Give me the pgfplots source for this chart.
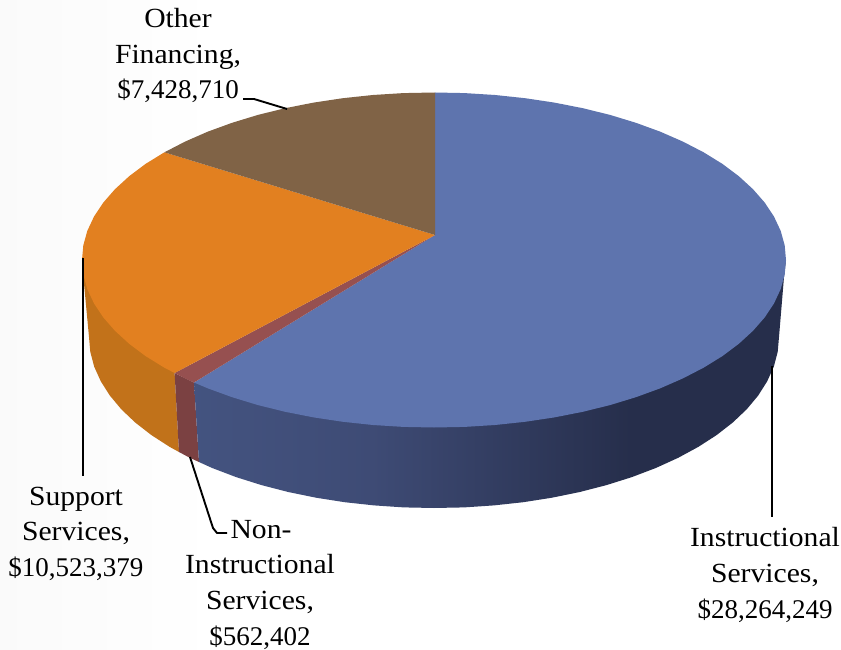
\documentclass[border=0pt]{standalone}
\usepackage{fontspec}
\setmainfont[FakeStretch=1.07]{Liberation Serif}
\newfontfamily\numfont{Liberation Serif}
\usepackage{pgfplots}
\pgfplotsset{compat=1.18}

\definecolor{topblue}{HTML}{5E74AE}
\definecolor{toporange}{HTML}{E28020}
\definecolor{topbrown}{HTML}{806346}
\definecolor{topred}{HTML}{965050}
\definecolor{sidered}{HTML}{7B4142}
\definecolor{sideA}{HTML}{4D6192}
\definecolor{sideB}{HTML}{3E4B75}
\definecolor{sideC}{HTML}{262E4B}
\definecolor{sideOA}{HTML}{C4731A}
\definecolor{sideOB}{HTML}{BD7019}
\definecolor{bgA}{HTML}{EDEDED}
\definecolor{bgB}{HTML}{F3F3F3}
\definecolor{bgC}{HTML}{F9F9F9}

\pgfdeclarehorizontalshading{blueside}{100bp}{color(0bp)=(sideA); color(40bp)=(sideB); color(62bp)=(sideC); color(100bp)=(sideC)}
\pgfdeclarehorizontalshading{orangeside}{100bp}{color(0bp)=(sideOA); color(100bp)=(sideOB)}
\pgfdeclarehorizontalshading{bgshade}{100bp}{color(0bp)=(bgA); color(9bp)=(bgB); color(22bp)=(bgC); color(38bp)=(white); color(100bp)=(white)}

\begin{document}
\begin{tikzpicture}[
  lbl/.style={anchor=base, text=black, inner sep=0pt, font=\fontsize{27.7}{33}\selectfont},
  num/.style={anchor=base, text=black, inner sep=0pt, font=\fontsize{27}{33}\selectfont\numfont},
  leader/.style={black, line width=1.9pt, line join=round},
]
\begin{axis}[
  scale only axis,
  width=841pt,
  height=650pt,
  xmin=0, xmax=841,
  ymin=0, ymax=650,
  y dir=reverse,
  hide axis,
  clip=true,
]

% backdrop
\addplot[draw=none, shading=bgshade] coordinates {(0,0) (841,0) (841,650) (0,650)} -- cycle;

% sides
\addplot[draw=none, shading=orangeside] coordinates {
  (83,273) (89,337) (90.3,351.9) (94.2,366.7) (100.8,381.3) (109.8,395.5) (121.3,409.3)
  (135.2,422.5) (151.4,435.1) (169.7,446.9) (179,452) (174.6,373) (300,300)
} -- cycle;
\addplot[draw=none, fill=sidered] coordinates {
  (174.6,373) (194,382.5) (199,462) (190,457.9) (179,452)
} -- cycle;
\addplot[draw=none, shading=blueside] coordinates {
  (194,382.5) (786,260) (784,277) (779,337) (777.7,351.9) (773.8,366.7) (767.2,381.3)
  (758.2,395.5) (746.7,409.3) (732.8,422.5) (716.6,435.1) (698.3,446.9) (678,457.9)
  (655.8,468) (631.9,477.1) (606.5,485.1) (579.8,492) (552,497.7) (523.3,502.2)
  (493.9,505.4) (464.1,507.4) (434,508) (403.9,507.4) (374.1,505.4) (344.7,502.2)
  (316,497.7) (288.2,492) (261.5,485.1) (236.1,477.1) (212.2,468) (199,462)
} -- cycle;

% top face
\addplot[draw=none, fill=topblue] coordinates {
  (435,235) (435,92.5) (464.7,93.1) (495.1,95) (525.1,98.2) (554.4,102.6) (582.8,108.2)
  (610,114.9) (635.9,122.8) (660.3,131.7) (682.9,141.6) (703.6,152.3) (722.4,163.9)
  (738.8,176.2) (753,189.2) (764.8,202.7) (774,216.6) (780.7,230.9) (784.7,245.4) (786,260)
  (784.7,274.6) (780.7,289.1) (774,303.4) (764.8,317.3) (753,330.8) (738.8,343.8)
  (722.4,356.1) (703.6,367.7) (682.9,378.4) (660.3,388.3) (635.9,397.2) (610,405.1)
  (582.8,411.8) (554.4,417.4) (525.1,421.8) (495.1,425) (464.7,426.9) (434,427.5)
  (403.3,426.9) (372.9,425) (342.9,421.8) (313.6,417.4) (285.2,411.8) (258,405.1)
  (232.1,397.2) (207.7,388.3) (194,382.5)
} -- cycle;
\addplot[draw=none, fill=topred] coordinates {
  (435,235) (194,382.5) (185.1,378.4) (174.6,373)
} -- cycle;
\addplot[draw=none, fill=toporange] coordinates {
  (435,235) (174.6,373) (164.4,367.7) (145.6,356.1) (129.2,343.8) (115,330.8) (103.2,317.3)
  (94,303.4) (87.3,289.1) (83.3,274.6) (82,260) (83.3,245.4) (87.3,230.9) (94,216.6)
  (103.2,202.7) (115,189.2) (129.2,176.2) (145.6,163.9) (164.4,152.3)
} -- cycle;
\addplot[draw=none, fill=topbrown] coordinates {
  (435,235) (164.4,152.3) (185.1,141.6) (207.7,131.7) (232.1,122.8) (258,114.9) (285.2,108.2)
  (313.6,102.6) (342.9,98.2) (372.9,95) (403.3,93.1) (435,92.5)
} -- cycle;

% leader lines
\addplot[leader] coordinates {(243,99) (254,99) (287,109)};
\addplot[leader] coordinates {(82.7,258) (82.7,476)};
\addplot[leader] coordinates {(190,457) (213,528) (217,533) (227,533)};
\addplot[leader] coordinates {(772.4,366) (772.4,517)};

% labels
\node[lbl] at (axis cs:178,28) {Other};
\node[lbl] at (axis cs:178,64) {Financing,};
\node[num] at (axis cs:178,99) {\$7,428,710};
\node[lbl] at (axis cs:76,505) {Support};
\node[lbl] at (axis cs:76,540) {Services,};
\node[num] at (axis cs:76,576) {\$10,523,379};
\node[lbl] at (axis cs:261,538) {Non-};
\node[lbl] at (axis cs:260,573) {Instructional};
\node[lbl] at (axis cs:260,609) {Services,};
\node[num] at (axis cs:260,645) {\$562,402};
\node[lbl] at (axis cs:765,546) {Instructional};
\node[lbl] at (axis cs:765,582) {Services,};
\node[num] at (axis cs:765,618) {\$28,264,249};
\end{axis}
\end{tikzpicture}
\end{document}
